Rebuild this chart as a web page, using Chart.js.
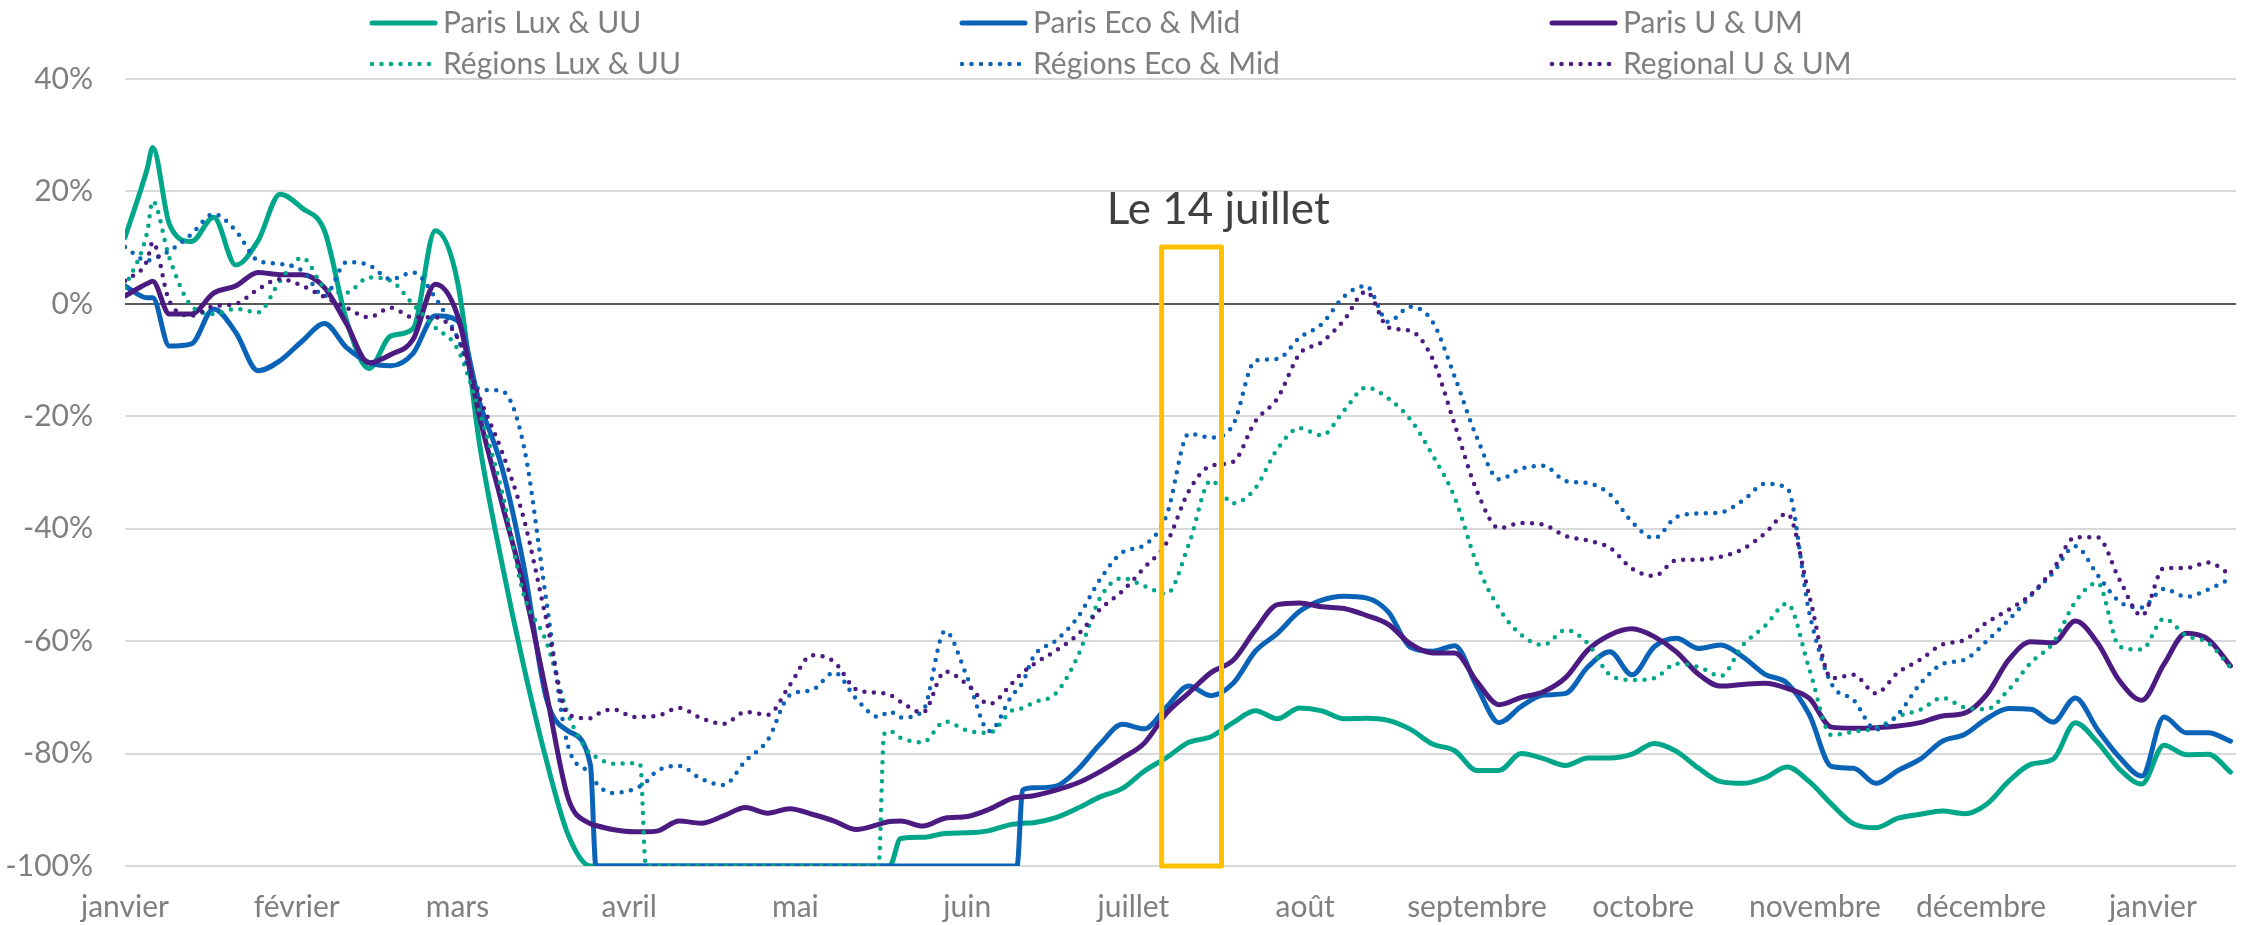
<!DOCTYPE html>
<html>
<head>
<meta charset="utf-8">
<script src="https://cdn.jsdelivr.net/npm/chart.js@4.4.0/dist/chart.umd.min.js"></script>
<style>
  html, body { margin: 0; padding: 0; background: #fff; }
  #wrap { width: 2244px; height: 925px; position: relative; }
</style>
</head>
<body>
<div id="wrap"><canvas id="chart"></canvas></div>
<script>
// day index, 0 = 1 January
const days = [
  0, 4, 5, 8, 12, 16, 20, 24, 28, 32, 36, 40, 44, 48, 52, 56, 60, 64,
  68, 72, 76, 80, 84, 85, 88, 92, 93, 94, 96, 100, 104, 108, 112, 116, 120, 124,
  128, 132, 136, 137, 138, 140, 144, 148, 152, 156, 160, 161, 162, 164, 168, 172, 176, 180, 184, 188, 192,
  196, 200, 204, 208, 212, 216, 220, 224, 228, 232, 236, 240, 244, 248, 252, 256, 260,
  264, 268, 272, 276, 280, 284, 288, 292, 296, 300, 304, 308, 312, 316, 320, 324,
  328, 332, 336, 340, 344, 348, 352, 356, 360, 364, 368, 372, 376, 380
];

const monthDays = [0, 31, 60, 91, 121, 152, 182, 213, 244, 274, 305, 335, 366];
const monthLabels = ['janvier', 'février', 'mars', 'avril', 'mai', 'juin', 'juillet',
  'août', 'septembre', 'octobre', 'novembre', 'décembre', 'janvier'];

const parisLux = [
  11.8, 24, 27.8, 14.2, 11.1, 15.4, 6.9, 11.2, 19.5, 17, 13, -3, -11.5, -5.7, -4.4, 13, 4, -25,
  -46, -64.6, -81, -94.5, -100, -100, -100, -100, -100, -100, -100, -100, -100, -100, -100, -100, -100, -100,
  -100, -100, -100, -100, -100, -95.1, -94.9, -94.2, -94.1, -93.7, -92.6, -92.5, -92.4, -92.3, -91.4, -89.7, -87.7, -86.2, -83.1, -80.7, -78,
  -77, -74.5, -72.4, -73.8, -71.9, -72.4, -73.8, -73.7, -74.1, -75.7, -78.3, -79.5, -83, -83, -80, -80.9, -82.1,
  -80.8, -80.8, -80.1, -78.2, -79.6, -82.6, -85, -85.3, -84.3, -82.4, -85, -89, -92.5, -93.2, -91.5, -90.8,
  -90.2, -90.7, -89, -84.9, -81.9, -81, -74.5, -78, -82.8, -85.4, -78.5, -80.2, -80.1, -83.3
];
const parisEco = [
  3.2, 1.1, 1.1, -7.5, -7.1, -0.9, -5.1, -11.9, -10.1, -6.6, -3.5, -7.8, -10.4, -11, -8.8, -2.1, -3, -17.6,
  -29, -46.8, -70, -76, -82, -100, -100, -100, -100, -100, -100, -100, -100, -100, -100, -100, -100, -100,
  -100, -100, -100, -100, -100, -100, -100, -100, -100, -100, -100, -100, -86.5, -86.1, -85.8, -82.8, -78.3, -74.8, -75.6, -71.7, -68,
  -69.7, -67.5, -61.8, -58.6, -54.7, -52.7, -52, -52.3, -54.8, -61.1, -61.8, -60.8, -68.1, -74.5, -71.6, -69.6, -69.3,
  -64.6, -61.9, -66, -61, -59.5, -61.3, -60.7, -62.8, -65.9, -67.5, -73.1, -82.3, -82.6, -85.3, -83, -81,
  -77.8, -76.6, -73.8, -72, -72.1, -74.4, -70.1, -75.7, -80.7, -84, -73.5, -76.3, -76.3, -77.8
];
const parisU = [
  1.4, 3.6, 4, -1.8, -1.8, 1.9, 3.2, 5.6, 5.2, 5.2, 2.9, -3.6, -10.5, -9, -6.3, 3.5, -2, -20.1,
  -35.4, -50.4, -69, -88, -92.5, -92.8, -93.5, -93.9, -93.9, -93.9, -93.8, -92, -92.4, -91.1, -89.6, -90.6, -89.8, -90.8,
  -92, -93.5, -92.6, -92.3, -92.1, -92, -92.9, -91.5, -91.2, -89.9, -88, -87.8, -87.7, -87.5, -86.5, -85.2, -83.2, -80.8, -78.1, -72.8, -69.2,
  -65.6, -63.4, -58, -53.5, -53.2, -53.9, -54.2, -55.4, -57, -60.5, -62.1, -62.1, -67.2, -71.3, -70, -69, -66.5,
  -61.6, -58.9, -57.8, -59.2, -61.9, -65.9, -68, -67.7, -67.5, -68.4, -70.2, -75.3, -75.5, -75.4, -75.1, -74.5,
  -73.3, -72.8, -69.5, -63.3, -60.1, -60.3, -56.4, -60.3, -67.1, -70.5, -64.1, -58.6, -59.7, -64.4
];
const regionsLux = [
  2.9, 12.7, 18.3, 8.2, -0.4, -1.8, -0.9, -1.5, 4.1, 8.2, 2.9, 2, 4.7, 4.1, -0.1, -4.2, -8, -19.3,
  -33.3, -51.8, -60, -73.1, -80.1, -80.6, -81.8, -81.7, -82, -100, -100, -100, -100, -100, -100, -100, -100, -100,
  -100, -100, -100, -76.6, -76, -77.2, -78, -74.3, -75.9, -76.3, -72.4, -72.1, -71.9, -70.9, -69.3, -62.6, -52.3, -48.8, -50.2, -51.6, -42.8,
  -31.4, -35.5, -32.8, -25.8, -22.1, -23.4, -19, -14.9, -16.8, -20.6, -26.9, -34.5, -46.3, -54.2, -58.9, -60.7, -58,
  -60.4, -66, -66.9, -66.6, -64, -64.6, -66.2, -60.7, -57.3, -53.3, -65, -76.7, -76.1, -75.5, -73.4, -72.2,
  -70.1, -71.8, -72.1, -68.6, -63.8, -60.3, -53, -49.6, -61, -61.5, -56, -59, -60.3, -64.7
];
const regionsEco = [
  10.1, 7.7, 8, 9.4, 12.4, 16, 13, 7.7, 7.1, 5.9, 1.4, 7.4, 6.9, 4.4, 5.6, 1.1, -6, -15.2,
  -15.5, -25.4, -52.5, -78.8, -83.5, -85.2, -87, -86.3, -85.8, -85.1, -83.1, -82.2, -84.5, -85.6, -81.3, -77.6, -69.6, -68.7,
  -65.6, -70.3, -73.5, -73, -72.5, -73.6, -72.4, -58.2, -66.4, -76, -69.8, -68.6, -67.4, -62.7, -59.9, -55.7, -49, -44.2, -42.9, -37.6, -23.1,
  -23.8, -21.5, -10.1, -9.8, -6, -3.6, 1.3, 3.2, -3.2, -0.5, -3.2, -13, -23.8, -31.2, -29.3, -28.8, -31.5,
  -31.9, -33.9, -38.8, -41.7, -37.9, -37.3, -37.1, -35, -32, -32.8, -55, -67.6, -70.5, -75.7, -73, -67.6,
  -64.1, -63.3, -60, -56.2, -51.9, -47.8, -43.1, -48.2, -53, -54, -50.7, -52.1, -50.8, -48.9
];
const regionalU = [
  4.1, 7.7, 11, 0.5, -2.1, -0.4, 0, 2.6, 4.4, 3.2, 1.2, -0.7, -2.4, -0.7, -2.4, -2.4, -6, -16.7,
  -26.2, -38.3, -56, -73.1, -73.7, -73.1, -72.1, -73.5, -73.5, -73.4, -73.3, -71.9, -73.7, -74.7, -72.6, -73.1, -67.8, -62.5,
  -63.7, -68.6, -69.2, -69.3, -69.5, -70.8, -72.7, -65.4, -67.7, -71.2, -67.6, -66.5, -65.6, -64.1, -61.7, -58.8, -54.3, -51.1, -46.9, -42.5, -33.3,
  -28.8, -28.1, -20.9, -16.8, -8.9, -6.8, -2.9, 2.2, -4.2, -4.8, -9.8, -21.5, -33.3, -39.9, -39, -39.3, -41.3,
  -42.1, -43.4, -47.1, -48.4, -45.6, -45.5, -45, -43.6, -40.8, -37.3, -52, -66.6, -66, -69.3, -65.6, -63.3,
  -60.6, -59.8, -56.7, -54.4, -51.7, -47.2, -41.5, -41.5, -49.1, -55.5, -47, -47, -46, -48.2
];

// highlighted week around 14 July (day range, value range)
const boxDays = [187.1, 197.9];
const boxValues = [10.1, -100];
const boxLabel = 'Le 14 juillet';

const FONT = 'Lato, "Open Sans", sans-serif';
const GREY = '#7F7F7F';
const GREEN = '#00A689';
const BLUE = '#0A63B6';
const PURPLE = '#4B1B82';
const DOTS = [0, 9.5];

function pts(values) {
  return values.map((v, i) => ({ x: days[i], y: v }));
}

function makeSet(label, values, color, dotted, order) {
  return {
    label: label,
    data: pts(values),
    borderColor: color,
    backgroundColor: color,
    borderWidth: dotted ? 4.5 : 5,
    borderDash: dotted ? DOTS : [],
    borderCapStyle: 'round',
    borderJoinStyle: 'round',
    pointRadius: 0,
    cubicInterpolationMode: 'monotone',
    fill: false,
    order: order
  };
}

const gridLegend = {
  id: 'gridLegend',
  afterDraw(chart) {
    const ctx = chart.ctx;
    ctx.save();
    ctx.font = '30px ' + FONT;
    ctx.textBaseline = 'middle';
    ctx.textAlign = 'left';
    chart.data.datasets.forEach((ds, i) => {
      const col = i % 3;
      const row = Math.floor(i / 3);
      const x = 369 + col * 590;
      const y = row === 0 ? 23 : 64;
      ctx.beginPath();
      ctx.strokeStyle = ds.borderColor;
      ctx.lineWidth = ds.borderWidth;
      ctx.lineCap = 'round';
      ctx.setLineDash(ds.borderDash);
      ctx.moveTo(x + 3, y);
      ctx.lineTo(x + 66, y);
      ctx.stroke();
      ctx.setLineDash([]);
      ctx.fillStyle = GREY;
      ctx.fillText(ds.label, x + 74, y);
    });
    ctx.restore();
  }
};

const julyBox = {
  id: 'julyBox',
  afterDatasetsDraw(chart) {
    const { ctx, scales } = chart;
    const x = scales.x, y = scales.y;
    const l = x.getPixelForValue(boxDays[0]);
    const r = x.getPixelForValue(boxDays[1]);
    const t = y.getPixelForValue(boxValues[0]);
    const b = y.getPixelForValue(boxValues[1]);
    ctx.save();
    ctx.strokeStyle = '#FFC000';
    ctx.lineWidth = 5;
    ctx.lineJoin = 'round';
    ctx.strokeRect(l, t, r - l, b - t);
    ctx.fillStyle = '#404040';
    ctx.font = '44px ' + FONT;
    ctx.textAlign = 'center';
    ctx.textBaseline = 'alphabetic';
    ctx.fillText(boxLabel, x.getPixelForValue(197.3), y.getPixelForValue(14.2));
    ctx.restore();
  }
};

new Chart(document.getElementById('chart'), {
  type: 'line',
  data: {
    datasets: [
      makeSet('Paris Lux & UU', parisLux, GREEN, false, 6),
      makeSet('Paris Eco & Mid', parisEco, BLUE, false, 5),
      makeSet('Paris U & UM', parisU, PURPLE, false, 4),
      makeSet('Régions Lux & UU', regionsLux, GREEN, true, 3),
      makeSet('Régions Eco & Mid', regionsEco, BLUE, true, 2),
      makeSet('Regional U & UM', regionalU, PURPLE, true, 1)
    ]
  },
  options: {
    responsive: true,
    maintainAspectRatio: false,
    animation: false,
    layout: { padding: { left: 0, right: 8, top: 79, bottom: 0 } },
    plugins: {
      legend: { display: false },
      tooltip: { enabled: false }
    },
    scales: {
      x: {
        type: 'linear',
        min: 0,
        max: 381,
        afterBuildTicks: scale => { scale.ticks = monthDays.map(v => ({ value: v })); },
        afterFit: scale => { scale.height = 59; },
        grid: { display: false, drawTicks: false },
        border: { display: false },
        ticks: {
          autoSkip: false,
          maxRotation: 0,
          padding: 23,
          color: GREY,
          font: { family: FONT, size: 30 },
          callback: v => monthLabels[monthDays.indexOf(v)]
        }
      },
      y: {
        min: -100,
        max: 40,
        afterFit: scale => { scale.width = 125; },
        grid: {
          drawTicks: false,
          lineWidth: 2,
          color: c => (c.tick && c.tick.value === 0 ? '#595959' : '#D9D9D9')
        },
        border: { display: false },
        ticks: {
          stepSize: 20,
          padding: 32,
          color: GREY,
          font: { family: FONT, size: 30 },
          callback: v => v + '%'
        }
      }
    }
  },
  plugins: [gridLegend, julyBox]
});
</script>
</body>
</html>
